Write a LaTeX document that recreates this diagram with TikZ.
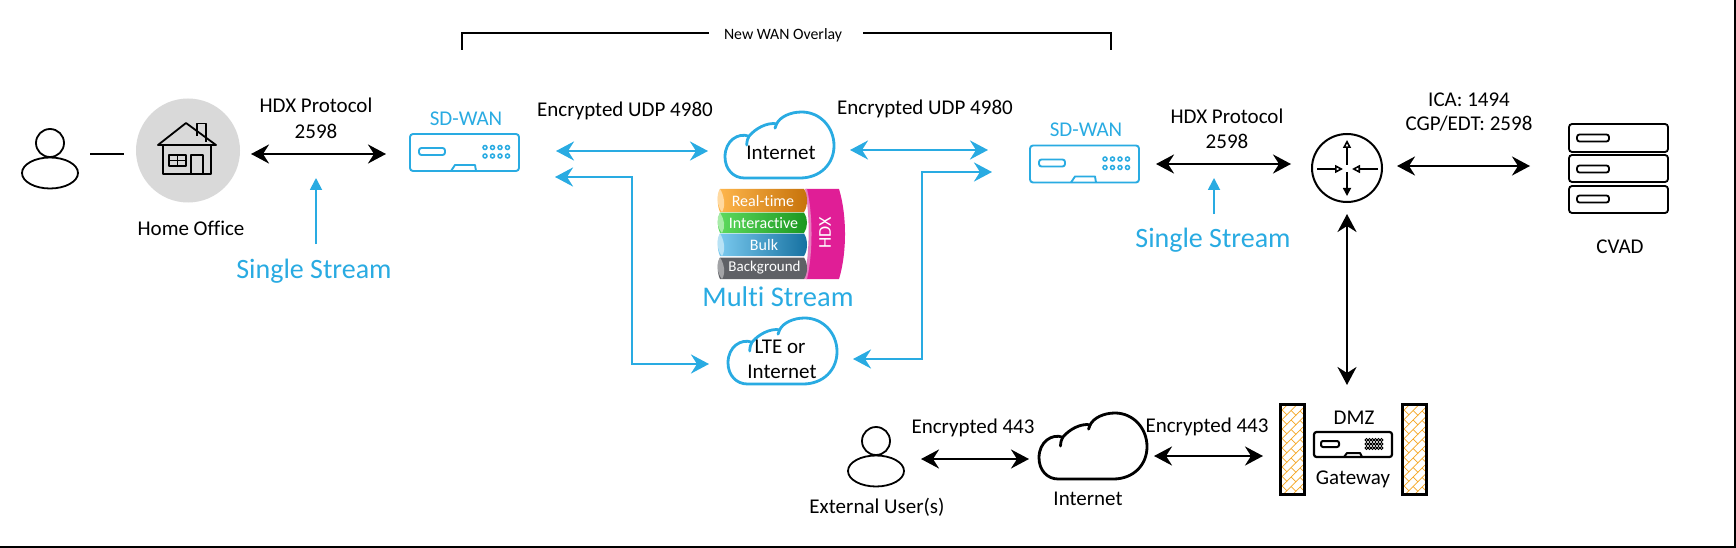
\documentclass[tikz,border=0pt]{standalone}
\usepackage{fontspec}
\setmainfont[Ligatures=NoCommon]{Carlito}
\usetikzlibrary{arrows.meta,shapes.geometric}
\definecolor{cblue}{HTML}{29ABE2}
\definecolor{cpink}{HTML}{E01E96}
\definecolor{cpinkl}{HTML}{E87CBF}
\definecolor{cbrick}{HTML}{F5A623}
\tikzset{
  x=1pt,y=-1pt,
  txt/.style={inner sep=0pt,font=\fontsize{21}{24}\selectfont,text=black},
  txtsm/.style={inner sep=0pt,font=\fontsize{15.8}{18}\selectfont,text=black},
  sdlabel/.style={inner sep=0pt,font=\fontsize{21}{24}\selectfont,text=cblue},
  streamlabel/.style={inner sep=0pt,font=\fontsize{28}{30}\selectfont,text=cblue},
  multilabel/.style={inner sep=0pt,font=\fontsize{28.5}{32}\selectfont,text=cblue},
  rowlabel/.style={inner sep=0pt,font=\fontsize{16}{18}\selectfont,text=white},
  blk/.style={draw=black,line width=2.6pt,{Stealth[length=18pt,width=19pt,inset=6pt]}-{Stealth[length=18pt,width=19pt,inset=6pt]}},
  blu/.style={draw=cblue,line width=2.6pt,{Stealth[length=18pt,width=19pt,inset=6pt]}-{Stealth[length=18pt,width=19pt,inset=6pt]}},
  bluup/.style={draw=cblue,line width=1.8pt,-{Stealth[length=12pt,width=12pt,inset=0pt]}},
  ink/.style={draw=black,line width=1.8pt},
}
\newcommand{\myperson}[2]{%
  \draw[ink,fill=white] (#1,#2+30) ellipse[x radius=28,y radius=15.5];
  \draw[ink,fill=white] (#1,#2) ellipse[x radius=14,y radius=14];
}
\newcommand{\mycloud}[5]{%
  \begin{scope}[shift={(#1,#2)},x=#3/327*1pt,y=-#4/196*1pt]
    \draw[#5,line width=2.8pt,line join=round,fill=white]
      (72,72) .. controls (40,60) and (0,85) .. (0,133)
      .. controls (0,170) and (25,196) .. (58,196) -- (225,196)
      .. controls (285,196) and (327,155) .. (327,100)
      .. controls (327,45) and (285,0) .. (230,0)
      .. controls (195,0) and (165,15) .. (155,35)
      .. controls (125,30) and (90,50) .. (72,72) -- cycle;
    \draw[#5,line width=2.8pt,line cap=round] (72,72) .. controls (68,78) and (66,85) .. (65,98);
    \draw[#5,line width=2.8pt,line cap=round] (155,35) -- (150,48);
  \end{scope}%
}
\newcommand{\mysdwan}[2]{%
  \begin{scope}[shift={(#1,#2)}]
    \draw[cblue,line width=1.9pt,rounded corners=3pt] (0,0) rectangle (109,37);
    \draw[cblue,line width=1.9pt,rounded corners=2.5pt] (9,14) rectangle (35,21);
    \foreach \xx in {75,82.5,90,97.5} \foreach \yy in {13.5,22}
      \draw[cblue,line width=1.5pt] (\xx,\yy) circle[radius=2];
    \draw[cblue,line width=1.9pt,line join=round] (41,37) -- (45,31) -- (65,31) -- (66,37);
  \end{scope}%
}
\newcommand{\myrow}[5]{%
  \shade[left color=#3,right color=#4]
    (720,#1) -- (804,#1) .. controls (808,#1+6) and (808,#2-6) .. (804,#2) -- (720,#2)
    .. controls (717,#2-6) and (717,#1+6) .. (720,#1) -- cycle;
  \fill[#5] (720,#1) .. controls (724,#1+6) and (726,#2-6) .. (722,#2)
    .. controls (717,#2-6) and (716,#1+6) .. (720,#1) -- cycle;
}
\begin{document}
\begin{tikzpicture}
\useasboundingbox (0,0) rectangle (1736,548);
\fill[white] (0,0) rectangle (1736,548);
\coordinate (frA) at (0,547); \coordinate (frB) at (1735,547); \coordinate (frC) at (1735,0);
\draw[black,line width=2pt] (frA) -- (frB) -- (frC);

% bracket
\node[txtsm] (overlay) at (783,35) {New WAN Overlay};
\coordinate (brA) at (462,50);
\coordinate (brB) at (462,33.5);
\coordinate (brC) at (709,33.5);
\coordinate (brD) at (863,33.5);
\coordinate (brE) at (1111,33.5);
\coordinate (brF) at (1111,50);
\draw[black,line width=2pt] (brA) -- (brB) -- (brC);
\draw[black,line width=2pt] (brD) -- (brE) -- (brF);

% home user
\myperson{50}{143}
\coordinate (lnA) at (90,154); \coordinate (lnB) at (124,154);
\draw[ink] (lnA) -- (lnB);
\fill[black!15] (188,150.5) ellipse[x radius=52,y radius=52];
\begin{scope}[line join=round]
  \draw[ink] (197,136) -- (197,123.5) -- (206,123.5) -- (206,142);
  \draw[ink] (158,145) -- (186,123) -- (216,145) -- cycle;
  \draw[ink] (163,145) -- (163,174) -- (211,174) -- (211,145);
  \draw[ink] (169,155) rectangle (186,166);
  \draw[ink] (177.5,155) -- (177.5,166) (169,160.5) -- (186,160.5);
  \draw[ink] (191,174) -- (191,155) -- (203,155) -- (203,174);
\end{scope}
\node[txt] (home) at (191,228.5) {Home Office};

% left protocol
\node[txt] (hdxA) at (316,105) {HDX Protocol};
\node[txt] (portA) at (316,131) {2598};
\coordinate (aA) at (251,154); \coordinate (aB) at (386,154);
\draw[blk] (aA) -- (aB);
\node[streamlabel] (ssA) at (314,271) {Single Stream};
\coordinate (upA) at (316,244); \coordinate (upB) at (316,178);
\draw[bluup] (upA) -- (upB);

% SD-WAN A
\node[sdlabel] (sdA) at (466,119) {SD-WAN};
\mysdwan{410}{134}

% clouds
\mycloud{725}{112}{109}{66}{cblue}
\node[txt] (inetA) at (781,153) {Internet};
\mycloud{728}{318}{109}{66}{cblue}
\node[txt] (lte) at (780,347) {LTE or};
\node[txt] (inetB) at (782,372) {Internet};

\node[txt] (encA) at (625,111) {Encrypted UDP 4980};
\node[txt] (encB) at (925,109) {Encrypted UDP 4980};

% blue arrows
\coordinate (bA) at (556,151); \coordinate (bB) at (708,151);
\draw[blu] (bA) -- (bB);
\coordinate (bC) at (555,177); \coordinate (bD) at (632,177);
\coordinate (bE) at (632,364); \coordinate (bF) at (709,364);
\draw[blu] (bC) -- (bD) -- (bE) -- (bF);
\coordinate (bG) at (850,150); \coordinate (bH) at (988,150);
\draw[blu] (bG) -- (bH);
\coordinate (bI) at (992,172); \coordinate (bJ) at (922,172);
\coordinate (bK) at (922,359); \coordinate (bL) at (853,359);
\draw[blu] (bI) -- (bJ) -- (bK) -- (bL);

% multi stream stack
\fill[cpink] (806,189) -- (839,189) .. controls (847,215) and (847,253) .. (839,279) -- (806,279)
   .. controls (812,253) and (812,215) .. (806,189) -- cycle;
\fill[cpinkl] (805,189) -- (807,189)
   .. controls (813,215) and (813,253) .. (807,279) -- (804,279)
   .. controls (810,253) and (810,215) .. (805,189) -- cycle;
\definecolor{r1a}{HTML}{FFB74D}\definecolor{r1b}{HTML}{C6720A}\definecolor{r1c}{HTML}{FFD9A0}
\definecolor{r2a}{HTML}{5FDB5F}\definecolor{r2b}{HTML}{1A961F}\definecolor{r2c}{HTML}{A8EBA8}
\definecolor{r3a}{HTML}{7CCBF0}\definecolor{r3b}{HTML}{1570A0}\definecolor{r3c}{HTML}{B8E2F5}
\definecolor{r4a}{HTML}{5F6166}\definecolor{r4c}{HTML}{A2A3A6}
\myrow{189}{212}{r1a}{r1b}{r1c}
\myrow{212.5}{233}{r2a}{r2b}{r2c}
\myrow{233.5}{256}{r3a}{r3b}{r3c}
\myrow{257.5}{279}{r4a}{r4a}{r4c}
\node[rowlabel] (rt) at (763,201) {Real-time};
\node[rowlabel] (ia) at (763.5,223) {Interactive};
\node[rowlabel] (bu) at (764,245) {Bulk};
\node[rowlabel,font=\fontsize{15}{18}\selectfont] (bg) at (764.5,268) {Background};
\node[rowlabel,font=\fontsize{18}{20}\selectfont,rotate=90] (hdxS) at (825,233) {HDX};
\node[multilabel] (ms) at (778,297) {Multi Stream};

% SD-WAN B
\node[sdlabel] (sdB) at (1086,130) {SD-WAN};
\mysdwan{1030}{145.5}

% right protocol
\node[txt] (hdxB) at (1227,116) {HDX Protocol};
\node[txt] (portB) at (1227,141) {2598};
\coordinate (cA) at (1156,164); \coordinate (cB) at (1291,164);
\draw[blk] (cA) -- (cB);
\node[streamlabel] (ssB) at (1213,240) {Single Stream};
\coordinate (upC) at (1214,214); \coordinate (upD) at (1214,178);
\draw[bluup] (upC) -- (upD);

% router
\node[draw=black,line width=2pt,ellipse,minimum width=70pt,minimum height=68pt,inner sep=0pt] (router) at (1347,168) {};
\coordinate (r1) at (1347,172); \coordinate (r2) at (1347,196);
\coordinate (r3) at (1347,165); \coordinate (r4) at (1347,140);
\coordinate (r5) at (1317,169); \coordinate (r6) at (1343,169);
\coordinate (r7) at (1378,169); \coordinate (r8) at (1352,169);
\draw[line width=1.6pt,-{Stealth[length=8pt,width=8pt,inset=0pt]}] (r1) -- (r2);
\draw[line width=1.6pt,-{Stealth[open,fill=white,length=8pt,width=8pt,inset=0pt]}] (r3) -- (r4);
\draw[line width=1.6pt,-{Stealth[open,fill=white,length=8pt,width=8pt,inset=0pt]}] (r5) -- (r6);
\draw[line width=1.6pt,-{Stealth[open,fill=white,length=8pt,width=8pt,inset=0pt]}] (r7) -- (r8);
\node[txt] (ica) at (1469,100) {ICA: 1494};
\node[txt] (cgp) at (1469,124) {CGP/EDT: 2598};
\coordinate (dA) at (1397,166); \coordinate (dB) at (1530,166);
\draw[blk] (dA) -- (dB);

% servers
\foreach \ya/\yb/\yc in {124/152/138,155/182/169,186/213/199}{
  \draw[ink,rounded corners=3pt] (1569,\ya) rectangle (1668,\yb);
  \draw[ink,rounded corners=2.5pt] (1577,\yc-3.5) rectangle (1609,\yc+3.5);
}
\node[txt] (cvad) at (1620,247) {CVAD};

% vertical
\coordinate (vA) at (1347,214); \coordinate (vB) at (1347,385);
\draw[blk] (vA) -- (vB);

% external
\myperson{876}{441}
\node[txt] (ext) at (877,507) {External User(s)};
\node[txt] (encC) at (973,428) {Encrypted 443};
\coordinate (eA) at (921,459); \coordinate (eB) at (1029,459);
\draw[blk] (eA) -- (eB);
\mycloud{1039}{413}{108}{66}{black}
\node[txt] (inetC) at (1088,499) {Internet};
\node[txt] (encD) at (1207,427) {Encrypted 443};
\coordinate (eC) at (1154,456); \coordinate (eD) at (1263,456);
\draw[blk] (eC) -- (eD);

% walls
\foreach \wx in {1280,1402}{
  \begin{scope}
    \clip (\wx,404) rectangle (\wx+24.5,494);
    \foreach \k in {-3,...,14}{
      \pgfmathsetmacro{\yo}{400+\k*9.5}
      \draw[cbrick,line width=0.7pt] (\wx-2,\yo+14) -- (\wx+28,\yo-16);
      \draw[cbrick,line width=0.7pt] (\wx+2,\yo+10) -- (\wx+7,\yo+15)
        (\wx+11,\yo+1) -- (\wx+16,\yo+6) (\wx+20,\yo-8) -- (\wx+25,\yo-3);
    }
  \end{scope}
  \draw[black,line width=3pt] (\wx,404) rectangle (\wx+24.5,494);
}
\node[txt] (dmz) at (1354,418) {DMZ};
\node[txt] (gw) at (1353,479) {Gateway};
\begin{scope}[shift={(1314,432)}]
  \draw[ink,line width=2.2pt,rounded corners=2.5pt] (0,0) rectangle (78,25);
  \draw[ink,line width=2pt,rounded corners=2pt] (7,9) rectangle (25,15);
  \foreach \xx in {52.5,55.5,...,69.5} \foreach \yy in {8,12,16}
    \draw[black,line width=1pt] (\xx,\yy) circle[radius=1.5];
  \draw[ink,line width=2pt,line join=round] (30,25) -- (33,21) -- (46,21) -- (48,25);
\end{scope}
\end{tikzpicture}
\end{document}
